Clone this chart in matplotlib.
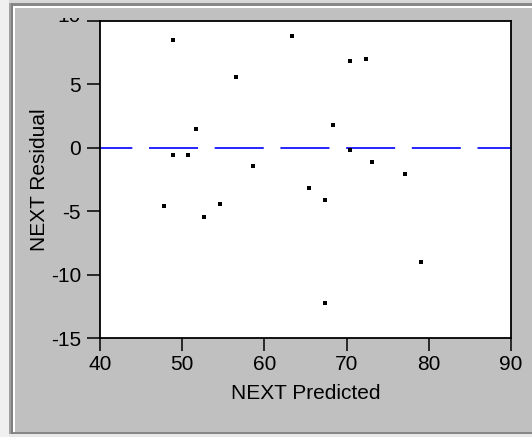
import matplotlib
matplotlib.use("Agg")
import matplotlib.pyplot as plt
from matplotlib.patches import Rectangle
from matplotlib.transforms import Bbox

predicted = [48.9, 56.6, 51.7, 48.9, 50.7, 58.6, 47.8, 54.6, 52.7, 63.4,
             70.4, 72.3, 68.4, 70.4, 73.1, 77.1, 65.4, 67.4, 79.1, 67.4]
residual = [8.5, 5.55, 1.5, -0.55, -0.55, -1.4, -4.6, -4.45, -5.45, 8.8,
            6.85, 7.0, 1.8, -0.15, -1.1, -2.05, -3.2, -4.15, -9.0, -12.25]
x_ticks = [40, 50, 60, 70, 80, 90]
y_ticks = [-15, -10, -5, 0, 5, 10]
x_label = "NEXT Predicted"
y_label = "NEXT Residual"

plt.rcParams['font.family'] = ['Liberation Sans', 'DejaVu Sans']
plt.rcParams['lines.scale_dashes'] = False

W, H = 532, 437
fig = plt.figure(figsize=(W / 100, H / 100), dpi=100, facecolor='#c0c0c0')

# window frame (pixel coords, origin bottom-left)
def rect(x0, y0_img, w, h, color):
    fig.patches.append(Rectangle((x0, H - y0_img - h), w, h, transform=None,
                                 facecolor=color, edgecolor='none', zorder=0))

rect(0, 0, W, 3, '#d8d8d8')
rect(0, 0, 9, H, '#f0f0f0')
rect(9, 3, 2.5, H - 3, '#a0a0a0')
rect(11, 3, W - 11, 2.5, '#888888')
rect(11, 3, 2, H - 3, '#808080')
rect(13, 5.5, 2, H - 5.5, '#ffffff')
rect(13, 5.5, W - 13, 2, '#ffffff')
rect(13, 432, W - 13, 2, '#888888')
rect(9, 434, W - 9, 3, '#e8e8e8')

ax = fig.add_axes([100 / W, 1 - 338 / H, 411 / W, 317 / H])
ax.set_facecolor('white')

ax.axhline(0, color='#0000ff', lw=1.2, linestyle=(12, (35.3, 12.0)), zorder=2)
ax.plot(predicted, residual, linestyle='none', marker='s', ms=2.3,
        color='black', mew=0, zorder=3)

ax.set_xlim(40, 90)
ax.set_ylim(-15, 10)
ax.set_xticks(x_ticks)
ax.set_yticks(y_ticks)
ax.set_xticklabels([str(v) for v in x_ticks])
ax.set_yticklabels([str(v) if v != 10 else '' for v in y_ticks])

ax.tick_params(direction='out', length=9.4, width=1.1, labelsize=15,
               colors='black')
ax.tick_params(axis='x', pad=3)
ax.tick_params(axis='y', pad=4.3)

for s in ax.spines.values():
    s.set_linewidth(1.3)
    s.set_color('black')

ax.set_xlabel(x_label, fontsize=15, labelpad=7)
ax.set_ylabel(y_label, fontsize=15, labelpad=1)

# top tick label "10" partially clipped by the window frame
t = ax.annotate('10', xy=(0, 10), xycoords=('axes fraction', 'data'),
                xytext=(-(9.4 + 4.3), 3), textcoords='offset points',
                ha='right', va='center', fontsize=15, annotation_clip=False)
t.set_clip_on(True)
t.set_clip_box(Bbox([[0, 0], [W, H - 18]]))

fig.savefig('out.png', dpi=100, facecolor=fig.get_facecolor())
